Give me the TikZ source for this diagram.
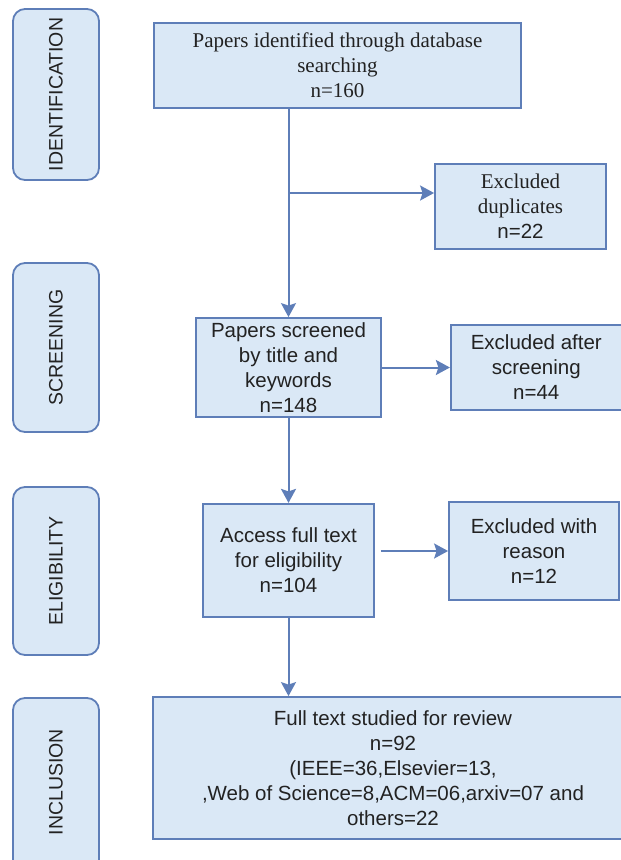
\documentclass[tikz,border=0pt]{standalone}
\usepackage{fontspec}
\setmainfont{Liberation Sans}
\newfontfamily\serifsrc{Liberation Serif}
\usepackage{xcolor}
\usetikzlibrary{arrows.meta,positioning}
\definecolor{boxfill}{RGB}{218,232,246}
\definecolor{boxline}{RGB}{94,126,184}
\definecolor{ink}{RGB}{34,34,34}
\newcommand{\srcfont}{\serifsrc\fontsize{21}{25}\selectfont}

\begin{document}
\begin{tikzpicture}[
  x=1pt, y=-1pt,
  font=\fontsize{20.5}{25}\selectfont,
  stage/.style={draw=boxline, fill=boxfill, line width=1.8pt, rounded corners=12pt,
                minimum width=86pt, inner sep=0pt, text=ink},
  stagetext/.style={rotate=90, text=ink, font=\fontsize{19.5}{24}\selectfont},
  flow/.style={draw=boxline, fill=boxfill, line width=1.8pt, align=center,
               inner sep=0pt, text=ink},
  link/.style={draw=boxline, line width=2pt},
  >={Stealth[length=14pt,width=15pt,inset=2.5pt]},
]
\useasboundingbox (0,0) rectangle (621,860);
\clip (0,0) rectangle (621,860);

% phase labels on the left
\node[stage, minimum height=171pt] (ident) at (56,94.5) {};
\node[stagetext] at (ident) {IDENTIFICATION};
\node[stage, minimum height=169pt] (screen) at (56,347.5) {};
\node[stagetext] at (screen) {SCREENING};
\node[stage, minimum height=168pt] (elig) at (56,571) {};
\node[stagetext] at (elig) {ELIGIBILITY};
\node[stage, minimum height=186pt] (incl) at (56,791) {};
\node[stagetext] at (56,782) {INCLUSION};

% main flow
\node[flow, minimum width=367pt, minimum height=85pt, font=\srcfont] (found) at (337.5,65.5)
  {Papers identified through database\\ searching\\ n=160};
\node[flow, minimum width=185pt, minimum height=99pt] (screened) at (288.5,367.5)
  {Papers screened\\ by title and\\ keywords\\ n=148};
\node[flow, minimum width=171pt, minimum height=113pt, below=85pt of screened] (access)
  {Access full text\\ for eligibility\\ n=104};
\node[flow, minimum width=480pt, minimum height=142pt] (review) at (393,768)
  {Full text studied for review\\ n=92\\ (IEEE=36,Elsevier=13,\\ ,Web of Science=8,ACM=06,arxiv=07 and\\ others=22};

% excluded records
\node[flow, minimum width=171pt, minimum height=85pt] (dup) at (520.5,206.5)
  {{\srcfont Excluded}\\ {\srcfont duplicates}\\ n=22};
\node[flow, minimum width=171pt, minimum height=85pt, right=68pt of screened] (exscr)
  {Excluded after\\ screening\\ n=44};
\node[flow, minimum width=170pt, minimum height=98pt] (exrsn) at (534,551)
  {Excluded with\\ reason\\ n=12};

% connectors
\coordinate (fork) at (screened.north |- 0,193);
\draw[link, ->] (screened.north |- found.south) -- (screened.north);
\draw[link, ->] (fork) -- (fork -| dup.west);
\draw[link, ->] (screened.east) -- (screened.east -| exscr.west);
\draw[link, ->] (screened.south) -- (access.north);
\draw[link, ->, shorten <=6pt] (access.east |- exrsn.west) -- (exrsn.west);
\draw[link, ->] (access.south) -- (access.south |- review.north);
\end{tikzpicture}
\end{document}
